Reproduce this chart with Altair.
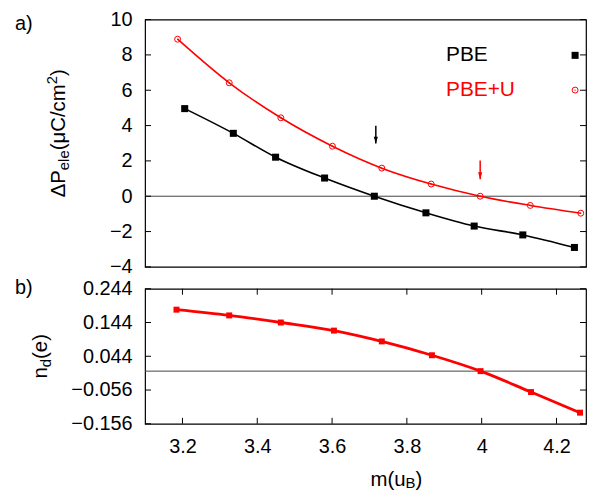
import altair as alt
import pandas as pd

# ---------------- data ----------------
series = ["PBE", "PBE+U"]
series_colors = ["black", "red"]

m_pbe = [3.206, 3.336, 3.449, 3.580, 3.713, 3.851, 3.980, 4.110, 4.248]
p_pbe = [4.96, 3.56, 2.21, 1.03, 0.00, -0.94, -1.69, -2.19, -2.90]

m_pbeu = [3.187, 3.325, 3.463, 3.601, 3.733, 3.865, 3.996, 4.130, 4.265]
p_pbeu = [8.89, 6.42, 4.44, 2.83, 1.59, 0.69, 0.00, -0.52, -0.96]

m_nd = [3.184, 3.325, 3.463, 3.605, 3.733, 3.867, 3.997, 4.132, 4.263]
nd_vals = [0.182, 0.165, 0.144, 0.120, 0.088, 0.047, 0.000, -0.062, -0.123]

arrow_x = [3.717, 3.996]
arrow_top = [3.99, 2.02]
arrow_tip = [2.98, 0.96]

x_ticks = [3.2, 3.4, 3.6, 3.8, 4.0, 4.2]
x_domain = [3.1, 4.279]          # visible extent of the (right-clipped) reference
top_y_ticks = [-4, -2, 0, 2, 4, 6, 8, 10]
top_y_domain = [-4, 10]
bot_y_ticks = [-0.156, -0.056, 0.044, 0.144, 0.244]
bot_y_domain = [-0.156, 0.244]

# ---------------- style ----------------
FONT = "Liberation Sans"
W, H_TOP, H_BOT = 444, 249, 136
LAB = 20
TIT = 20.5
SUB = 15

# Arial-like advance widths (em) for building sub/superscript titles
ADV = {"Δ": 0.668, "P": 0.667, "e": 0.556, "l": 0.222, "(": 0.333, "μ": 0.576,
       "C": 0.722, "/": 0.278, "c": 0.5, "m": 0.833, "2": 0.556, ")": 0.333,
       "n": 0.556, "d": 0.556, "u": 0.556, "B": 0.667}


def width(s, fs):
    return sum(ADV.get(ch, 0.556) for ch in s) * fs


def rich_text(pieces, ax, ay, rotated, dummy):
    """pieces: list of (text, fontsize, baseline_shift)."""
    layers = []
    off = 0.0
    for t, fs, sh in pieces:
        layers.append(
            alt.Chart(dummy).mark_text(
                text=t, font=FONT, fontSize=fs, align="left", baseline="alphabetic",
                color="black", angle=270 if rotated else 0, dx=off, dy=sh,
            ).encode(x=alt.value(ax), y=alt.value(ay))
        )
        off += width(t, fs)
    return layers


xs = alt.Scale(domain=x_domain, nice=False, zero=False)
ys_top = alt.Scale(domain=top_y_domain, nice=False, zero=False)
ys_bot = alt.Scale(domain=bot_y_domain, nice=False, zero=False)
cscale = alt.Scale(domain=series, range=series_colors)

lab_common = dict(domain=False, grid=False, ticks=False, title=None,
                  labelFontSize=LAB, labelFont=FONT, labelColor="black")
left_top = alt.Axis(orient="left", values=top_y_ticks, format="d", labelPadding=13, **lab_common)
left_bot = alt.Axis(orient="left", values=bot_y_ticks, format=".3f", labelPadding=13, **lab_common)
x_bottom = alt.Axis(orient="bottom", values=x_ticks, format="~g", labelPadding=12.5,
                    labelFlush=False, **lab_common)

dummy = pd.DataFrame({"d": [0]})
zero_df = pd.DataFrame({"z": [0.0]})
tdf_top = pd.DataFrame({"t": top_y_ticks})
tdf_bot = pd.DataFrame({"t": bot_y_ticks})
tdf_x = pd.DataFrame({"t": x_ticks})

# inward tick marks, drawn as short stroked path symbols (6 px long)
TICK_SIZE = 36


def tick_pt(df, shape, **enc):
    return alt.Chart(df).mark_point(
        shape=shape, filled=False, size=TICK_SIZE, opacity=1,
        color="black", strokeWidth=1
    ).encode(**enc)


def y_ticks(df, scale):
    y = alt.Y("t:Q", scale=scale, axis=None)
    return [tick_pt(df, "M0,0L2,0", y=y, x=alt.value(0)),
            tick_pt(df, "M0,0L-2,0", y=y, x=alt.value(W))]


def x_ticks_layers(df, h):
    x = alt.X("t:Q", scale=xs, axis=None)
    return [tick_pt(df, "M0,0L0,2", x=x, y=alt.value(0)),
            tick_pt(df, "M0,0L0,-2", x=x, y=alt.value(h))]


df_top = pd.DataFrame({
    "m": m_pbe + m_pbeu,
    "p": p_pbe + p_pbeu,
    "s": [series[0]] * len(m_pbe) + [series[1]] * len(m_pbeu),
})
df_arrow = pd.DataFrame({"x": arrow_x, "top": arrow_top, "tip": arrow_tip, "s": series})
df_nd = pd.DataFrame({"m": m_nd, "n": nd_vals})

# ---------------- top panel ----------------
zero_top = alt.Chart(zero_df).mark_rule(color="#444", strokeWidth=1).encode(
    y=alt.Y("z:Q", scale=ys_top, axis=left_top)
)
lines_top = alt.Chart(df_top).mark_line(interpolate="monotone", strokeWidth=1.6).encode(
    x=alt.X("m:Q", scale=xs, axis=None),
    y=alt.Y("p:Q", scale=ys_top, axis=None),
    color=alt.Color("s:N", scale=cscale, legend=None),
)
sq_top = alt.Chart(df_top).transform_filter(alt.datum.s == series[0]).mark_point(
    shape="square", filled=True, size=50, opacity=1, color="black"
).encode(x=alt.X("m:Q", scale=xs, axis=None), y=alt.Y("p:Q", scale=ys_top, axis=None))
circ_top = alt.Chart(df_top).transform_filter(alt.datum.s == series[1]).mark_point(
    shape="circle", filled=False, size=36, opacity=1, color="red", strokeWidth=1
).encode(x=alt.X("m:Q", scale=xs, axis=None), y=alt.Y("p:Q", scale=ys_top, axis=None))
dot_top = alt.Chart(df_top).transform_filter(alt.datum.s == series[1]).mark_point(
    shape="circle", filled=True, size=2, opacity=1, color="red"
).encode(x=alt.X("m:Q", scale=xs, axis=None), y=alt.Y("p:Q", scale=ys_top, axis=None))

arrow_rule = alt.Chart(df_arrow).mark_rule(strokeWidth=1.5).encode(
    x=alt.X("x:Q", scale=xs, axis=None),
    y=alt.Y("top:Q", scale=ys_top, axis=None),
    y2="tip:Q",
    color=alt.Color("s:N", scale=cscale, legend=None),
)
arrow_head = alt.Chart(df_arrow).mark_point(
    shape="M-0.6,-2L0.6,-2L0,0Z", filled=True, size=49, opacity=1, strokeWidth=0
).encode(
    x=alt.X("x:Q", scale=xs, axis=None),
    y=alt.Y("tip:Q", scale=ys_top, axis=None),
    color=alt.Color("s:N", scale=cscale, legend=None),
)

# legend (text left of the symbol, as in the reference)
leg_layers = []
for i, (s, c) in enumerate(zip(series, series_colors)):
    yy = 36 + 35 * i
    leg_layers.append(alt.Chart(dummy).mark_text(
        text=s, font=FONT, fontSize=21, align="left", baseline="middle", color=c
    ).encode(x=alt.value(303), y=alt.value(yy)))
leg_layers.append(alt.Chart(dummy).mark_point(
    shape="square", filled=True, size=50, opacity=1, color="black"
).encode(x=alt.value(433), y=alt.value(36)))
leg_layers.append(alt.Chart(dummy).mark_point(
    shape="circle", filled=False, size=36, opacity=1, color="red", strokeWidth=1
).encode(x=alt.value(433), y=alt.value(71)))
leg_layers.append(alt.Chart(dummy).mark_point(
    shape="circle", filled=True, size=2, opacity=1, color="red"
).encode(x=alt.value(433), y=alt.value(71)))

label_a = alt.Chart(dummy).mark_text(
    text="a)", font=FONT, fontSize=20, align="left", baseline="middle", color="black"
).encode(x=alt.value(-131), y=alt.value(4))

ttl_top_pieces = [("ΔP", TIT, 0), ("ele", SUB, 4), ("(μC/cm", TIT, 0), ("2", SUB, -8), (")", TIT, 0)]
tot = sum(width(t, fs) for t, fs, _ in ttl_top_pieces)
ttl_top = rich_text(ttl_top_pieces, -81, H_TOP / 2 - 10 + tot / 2, True, dummy)

top = alt.layer(
    zero_top, *y_ticks(tdf_top, ys_top), lines_top, arrow_rule, arrow_head,
    sq_top, circ_top, dot_top, *leg_layers, label_a, *ttl_top
).resolve_axis(x="independent", y="independent").properties(width=W, height=H_TOP)

# ---------------- bottom panel ----------------
zero_bot = alt.Chart(zero_df).mark_rule(color="#444", strokeWidth=1).encode(
    y=alt.Y("z:Q", scale=ys_bot, axis=left_bot)
)
line_bot = alt.Chart(df_nd).mark_line(interpolate="monotone", strokeWidth=2.8, color="red").encode(
    x=alt.X("m:Q", scale=xs, axis=x_bottom),
    y=alt.Y("n:Q", scale=ys_bot, axis=None),
)
pts_bot = alt.Chart(df_nd).mark_point(
    shape="square", filled=True, size=36, opacity=1, color="red"
).encode(x=alt.X("m:Q", scale=xs, axis=None), y=alt.Y("n:Q", scale=ys_bot, axis=None))

label_b = alt.Chart(dummy).mark_text(
    text="b)", font=FONT, fontSize=20, align="left", baseline="middle", color="black"
).encode(x=alt.value(-131), y=alt.value(-1))

nd_pieces = [("n", TIT, 0), ("d", SUB, 4), ("(e)", TIT, 0)]
tot_nd = sum(width(t, fs) for t, fs, _ in nd_pieces)
ttl_nd = rich_text(nd_pieces, -99, H_BOT / 2 + tot_nd / 2, True, dummy)

mu_pieces = [("m(u", TIT, 0), ("B", SUB, 2), (")", TIT, 0)]
ttl_x = rich_text(mu_pieces, 227, 199, False, dummy)

bottom = alt.layer(
    zero_bot, *y_ticks(tdf_bot, ys_bot), *x_ticks_layers(tdf_x, H_BOT),
    line_bot, pts_bot, label_b, *ttl_nd, *ttl_x
).resolve_axis(x="independent", y="independent").properties(width=W, height=H_BOT)

chart = alt.vconcat(top, bottom, spacing=22, bounds="flush").properties(
    padding={"left": 6, "top": -1, "right": 0, "bottom": -2}
).configure_view(stroke="black", strokeWidth=1.2)

chart.save("out.html", embed_options={"renderer": "svg", "actions": False})
